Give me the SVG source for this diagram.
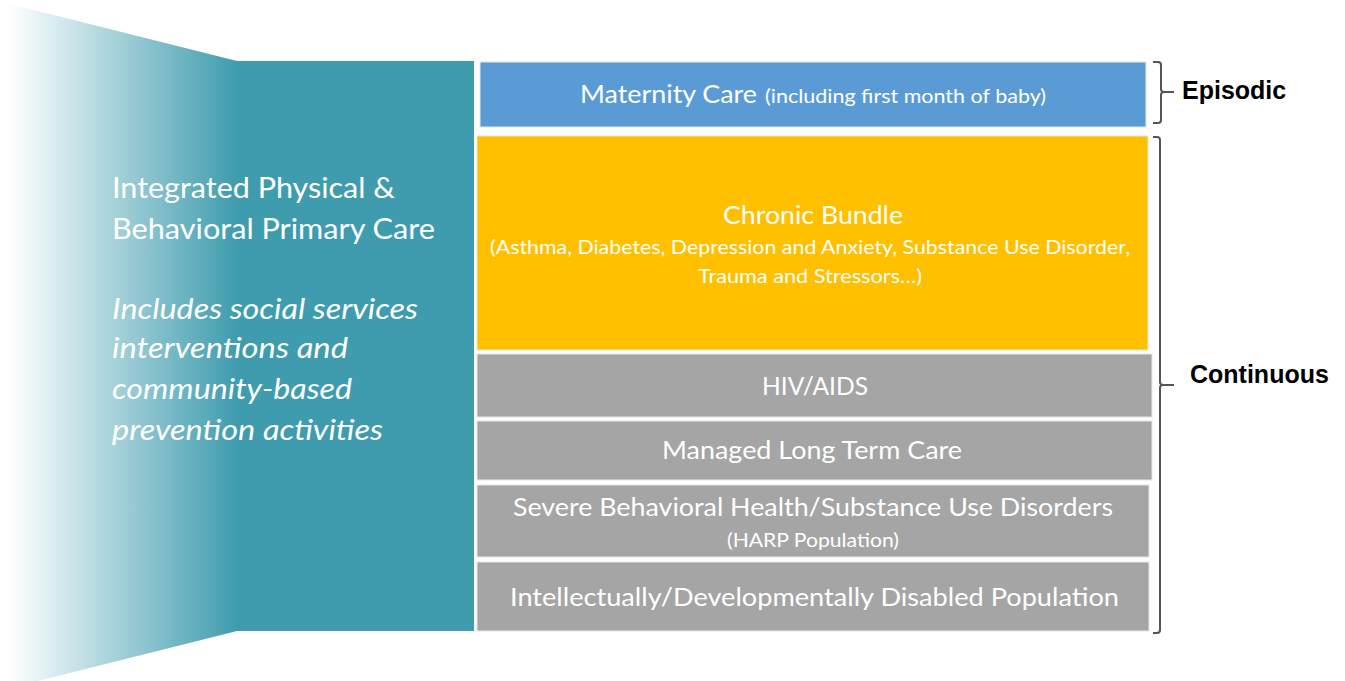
<svg xmlns="http://www.w3.org/2000/svg" width="1345" height="681" viewBox="0 0 1345 681">
  <defs>
    <linearGradient id="fade" x1="10" y1="0" x2="237" y2="0" gradientUnits="userSpaceOnUse">
      <stop offset="0" stop-color="#ffffff"/>
      <stop offset="1" stop-color="#3f9cae"/>
    </linearGradient>
    <style>
      .box { stroke: #e6e6e6; stroke-width: 1; }
      .t { font-family: Lato, "Open Sans", sans-serif; fill: #ffffff; }
      .big { font-size: 25px; }
      .small { font-size: 19px; }
      .left { font-size: 29.5px; }
      .lab { font-family: "Liberation Sans", Arial, sans-serif; font-weight: bold; font-size: 25px; fill: #000000; }
      .br { fill: none; stroke: #555555; stroke-width: 2; stroke-linejoin: round; }
    </style>
  </defs>

  <g id="left-panel">
    <polygon points="10,4 237,61 237,631 10,688" fill="url(#fade)"/>
    <rect x="237" y="61" width="237" height="570" fill="#3f9cae"/>
    <text class="t left" x="112" y="198" textLength="283" lengthAdjust="spacingAndGlyphs">Integrated Physical &amp;</text>
    <text class="t left" x="112" y="239" textLength="323" lengthAdjust="spacingAndGlyphs">Behavioral Primary Care</text>
    <text class="t left" x="112" y="319" font-style="italic" textLength="306" lengthAdjust="spacingAndGlyphs">Includes social services</text>
    <text class="t left" x="112" y="358" font-style="italic" textLength="236" lengthAdjust="spacingAndGlyphs">interventions and</text>
    <text class="t left" x="112" y="399" font-style="italic" textLength="240" lengthAdjust="spacingAndGlyphs">community-based</text>
    <text class="t left" x="112" y="440" font-style="italic" textLength="271" lengthAdjust="spacingAndGlyphs">prevention activities</text>
  </g>

  <g id="maternity">
    <rect class="box" x="480" y="62" width="666" height="65" fill="#5b9bd5"/>
    <text class="t big" x="580" y="103" textLength="177" lengthAdjust="spacingAndGlyphs">Maternity Care</text>
    <text class="t small" x="765" y="103" textLength="281" lengthAdjust="spacingAndGlyphs">(including first month of baby)</text>
  </g>

  <g id="chronic">
    <rect class="box" x="477" y="136" width="671" height="214" fill="#ffc000"/>
    <text class="t big" x="723" y="224" textLength="180" lengthAdjust="spacingAndGlyphs">Chronic Bundle</text>
    <text class="t small" x="490" y="254" textLength="640" lengthAdjust="spacingAndGlyphs">(Asthma, Diabetes, Depression and Anxiety, Substance Use Disorder,</text>
    <text class="t small" x="698" y="283" textLength="224" lengthAdjust="spacingAndGlyphs">Trauma and Stressors…)</text>
  </g>

  <g id="hiv">
    <rect class="box" x="477" y="354" width="675" height="63" fill="#a5a5a5"/>
    <text class="t big" x="762" y="395" textLength="106" lengthAdjust="spacingAndGlyphs">HIV/AIDS</text>
  </g>

  <g id="mltc">
    <rect class="box" x="477" y="421" width="675" height="59" fill="#a5a5a5"/>
    <text class="t big" x="662" y="459" textLength="300" lengthAdjust="spacingAndGlyphs">Managed Long Term Care</text>
  </g>

  <g id="harp">
    <rect class="box" x="477" y="485" width="672" height="72" fill="#a5a5a5"/>
    <text class="t big" x="513" y="516" textLength="600" lengthAdjust="spacingAndGlyphs">Severe Behavioral Health/Substance Use Disorders</text>
    <text class="t small" x="727" y="547" textLength="172" lengthAdjust="spacingAndGlyphs">(HARP Population)</text>
  </g>

  <g id="idd">
    <rect class="box" x="477" y="562" width="672" height="69" fill="#a5a5a5"/>
    <text class="t big" x="510" y="606" textLength="609" lengthAdjust="spacingAndGlyphs">Intellectually/Developmentally Disabled Population</text>
  </g>

  <g id="connectors">
    <path class="br" d="M1153,62 H1158 Q1161,62 1161,65 V89 Q1161,92 1164,92 H1174 M1164,92 Q1161,92 1161,95 V120 Q1161,123 1158,123 H1153"/>
    <path class="br" d="M1153,137 H1157 Q1160,137 1160,140 V382 Q1160,385 1163,385 H1174 M1163,385 Q1160,385 1160,388 V630 Q1160,633 1157,633 H1153"/>
  </g>

  <g id="labels">
    <text class="lab" x="1182" y="99">Episodic</text>
    <text class="lab" x="1190" y="383">Continuous</text>
  </g>
</svg>
